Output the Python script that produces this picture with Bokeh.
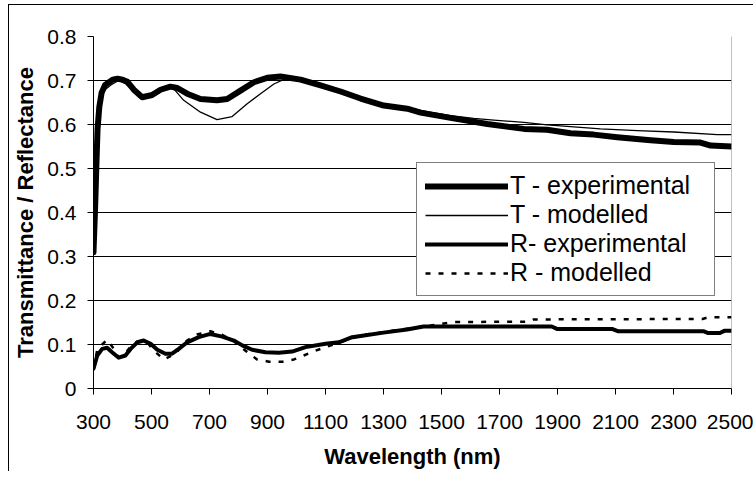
from bokeh.plotting import figure
from bokeh.models import Range1d, FixedTicker, Legend, LegendItem, Span
from bokeh.embed import file_html
from bokeh.resources import INLINE

# ---------------- data ----------------
x_ticks = [300, 500, 700, 900, 1100, 1300, 1500, 1700, 1900, 2100, 2300, 2500]
y_ticks = [0, 0.1, 0.2, 0.3, 0.4, 0.5, 0.6, 0.7, 0.8]
y_tick_labels = ["0", "0.1", "0.2", "0.3", "0.4", "0.5", "0.6", "0.7", "0.8"]

wl_t_exp = [300, 306, 310, 314, 320, 328, 340, 366, 383, 400, 417, 439, 468, 502,
            531, 565, 589, 623, 669, 726, 761, 807, 853, 899, 945, 1014, 1083,
            1152, 1221, 1301, 1382, 1428, 1531, 1658, 1784, 1864, 1945, 2025,
            2106, 2221, 2301, 2393, 2428, 2500]
t_exp = [0.31, 0.42, 0.51, 0.59, 0.64, 0.672, 0.69, 0.702, 0.704, 0.702, 0.697,
         0.679, 0.662, 0.667, 0.679, 0.686, 0.683, 0.670, 0.658, 0.655, 0.658,
         0.677, 0.696, 0.706, 0.709, 0.702, 0.689, 0.675, 0.659, 0.643, 0.636,
         0.627, 0.615, 0.601, 0.590, 0.588, 0.580, 0.577, 0.571, 0.564, 0.560,
         0.559, 0.552, 0.550]

wl_t_mod = [300, 306, 310, 315, 322, 336, 360, 386, 410, 440, 468, 502, 540, 565,
            577, 611, 669, 726, 778, 830, 876, 922, 968, 1014, 1083, 1152, 1221,
            1301, 1382, 1460, 1531, 1611, 1680, 1784, 1864, 1945, 2048, 2175,
            2301, 2451, 2500]
t_mod = [0.31, 0.42, 0.50, 0.58, 0.64, 0.677, 0.69, 0.70, 0.693, 0.675, 0.662,
         0.665, 0.68, 0.684, 0.681, 0.655, 0.628, 0.611, 0.618, 0.647, 0.670,
         0.692, 0.706, 0.703, 0.689, 0.675, 0.659, 0.645, 0.638, 0.628, 0.620,
         0.614, 0.610, 0.605, 0.599, 0.595, 0.590, 0.586, 0.583, 0.577, 0.577]

wl_r_exp = [300, 313, 330, 347, 364, 387, 410, 428, 451, 473, 497, 520, 548, 571,
            594, 623, 663, 703, 744, 784, 813, 847, 893, 939, 985, 1031, 1100,
            1146, 1192, 1227, 1300, 1381, 1438, 1880, 1900, 2090, 2110, 2405,
            2420, 2460, 2475, 2500]
r_exp = [0.045, 0.075, 0.090, 0.0925, 0.0825, 0.070, 0.075, 0.090, 0.105, 0.109,
         0.1015, 0.088, 0.079, 0.079, 0.090, 0.105, 0.1166, 0.124, 0.118, 0.109,
         0.098, 0.088, 0.0825, 0.081, 0.084, 0.094, 0.1015, 0.105, 0.1166, 0.12,
         0.127, 0.134, 0.141, 0.141, 0.135, 0.135, 0.13, 0.13, 0.126, 0.126,
         0.131, 0.131]

wl_r_mod = [300, 313, 330, 347, 365, 387, 416, 440, 465, 485, 508, 543, 583, 614,
            652, 703, 744, 785, 824, 864, 905, 951, 991, 1025, 1066, 1100, 1134,
            1180, 1227, 1300, 1380, 1462, 1542, 1800, 1818, 2400, 2421, 2500]
r_mod = [0.045, 0.088, 0.10, 0.111, 0.095, 0.070, 0.085, 0.105, 0.107, 0.105,
         0.086, 0.066, 0.079, 0.105, 0.122, 0.130, 0.122, 0.107, 0.086, 0.066,
         0.061, 0.061, 0.066, 0.075, 0.086, 0.094, 0.1015, 0.112, 0.122, 0.128,
         0.136, 0.143, 0.151, 0.152, 0.157, 0.158, 0.162, 0.162]

series_names = ["T - experimental", "T - modelled", "R- experimental", "R - modelled"]
x_title = "Wavelength (nm)"
y_title = "Transmittance / Reflectance"

# ---------------- figure ----------------
FONT = "Liberation Sans"

p = figure(width=745, height=467, output_backend="svg", toolbar_location=None,
           x_range=Range1d(300, 2500), y_range=Range1d(0, 0.8),
           min_border_left=84, min_border_right=23, min_border_top=31,
           min_border_bottom=84)
p.styles = {"border-left": "1px solid black", "border-top": "1px solid black",
            "margin-top": "4px", "margin-left": "8px"}
p.outline_line_color = None
p.background_fill_color = "white"
p.border_fill_color = "white"

# axes
p.xaxis.ticker = FixedTicker(ticks=x_ticks)
p.yaxis.ticker = FixedTicker(ticks=y_ticks)
p.yaxis.major_label_overrides = {t: l for t, l in zip(y_ticks, y_tick_labels)}
for ax in (p.xaxis[0], p.yaxis[0]):
    ax.axis_line_color = "black"
    ax.axis_line_width = 1
    ax.major_tick_line_color = "black"
    ax.major_tick_out = 6
    ax.major_tick_in = 0
    ax.minor_tick_line_color = None
    ax.major_label_text_font = FONT
    ax.major_label_text_font_size = "21px"
    ax.major_label_text_color = "black"
    ax.axis_label_text_font = FONT
    ax.axis_label_text_font_size = "22px"
    ax.axis_label_text_font_style = "bold"
    ax.axis_label_text_color = "black"
p.xaxis.major_label_standoff = 20
p.yaxis.major_label_standoff = 11
p.xaxis.axis_label = x_title
p.yaxis.axis_label = y_title
p.xaxis.axis_label_standoff = 12
p.yaxis.axis_label_standoff = 6

p.xgrid.visible = False
p.ygrid.ticker = FixedTicker(ticks=y_ticks)
p.ygrid.grid_line_color = "black"
p.ygrid.grid_line_width = 1

p.add_layout(Span(location=2500, dimension="height", line_color="#808080",
                  line_width=1))

# lines
r1 = p.line(wl_t_exp, t_exp, line_color="black", line_width=6, line_join="round",
            line_cap="round")
r2 = p.line(wl_t_mod, t_mod, line_color="black", line_width=1.3, line_join="round")
r3 = p.line(wl_r_exp, r_exp, line_color="black", line_width=4, line_join="round",
            line_cap="round")
r4 = p.line(wl_r_mod, r_mod, line_color="black", line_width=2.5, line_dash="5 8")

legend = Legend(items=[LegendItem(label=n, renderers=[r])
                       for n, r in zip(series_names, [r1, r2, r3, r4])],
                location=(323, 92))
legend.border_line_color = "black"
legend.border_line_width = 1
legend.background_fill_color = "white"
legend.background_fill_alpha = 1
legend.label_text_font = FONT
legend.label_text_font_size = "25px"
legend.label_text_line_height = 1.0
legend.label_text_color = "black"
legend.glyph_width = 83
legend.glyph_height = 26
legend.label_height = 26
legend.label_width = 196
legend.label_standoff = 2
legend.padding = 8
legend.spacing = 0
legend.margin = 0
p.add_layout(legend, "center")

open("out.html", "w").write(file_html(p, INLINE))
